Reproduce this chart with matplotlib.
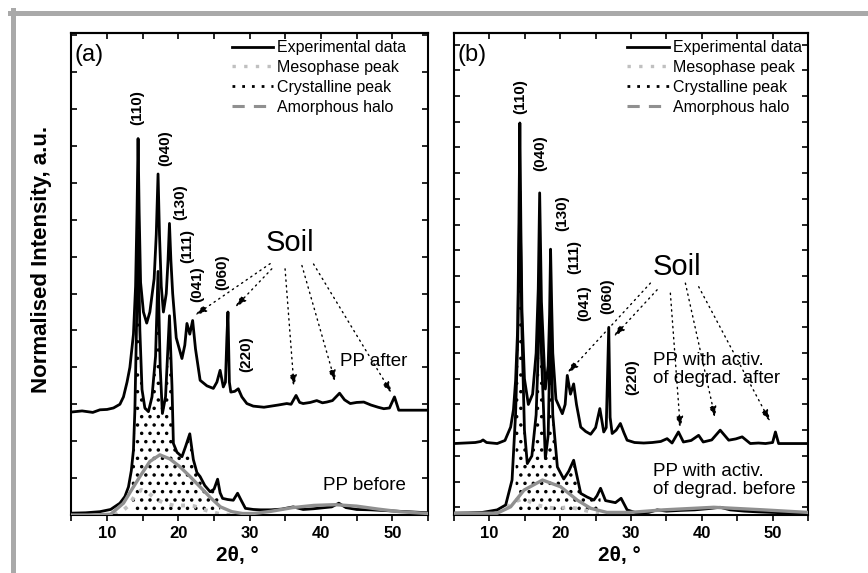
import numpy as np
import matplotlib
matplotlib.use('Agg')
import matplotlib.pyplot as plt
from matplotlib.lines import Line2D

plt.rcParams['font.family'] = ['Liberation Sans', 'DejaVu Sans']
plt.rcParams['hatch.linewidth'] = 1.3

# ---- panel (a) data ----
a_after_x = [5, 6.5, 8, 9, 10, 10.9, 11.8, 12.3, 12.8, 13.2, 13.7, 14.0, 14.2, 14.35, 14.5, 14.7, 15.1, 15.56,
             16.0, 16.6, 16.9, 17.15, 17.35, 17.6, 17.9, 18.3, 18.55, 18.75, 18.95, 19.2, 19.7, 20.5, 20.9,
             21.2, 21.6, 22.0, 22.4, 23.05, 24.0, 24.9, 25.4, 25.85, 26.3, 26.6, 26.8, 26.95, 27.15, 27.35,
             27.9, 28.4, 28.9, 29.6, 30.5, 32, 33, 34, 35.2, 35.8, 36.5, 37.0, 37.5, 38.5, 39.4, 40.2, 40.8,
             41.6, 42.6, 43.3, 44.1, 45.0, 46.0, 47.0, 48.0, 48.8, 49.6, 50.3, 50.9, 52, 53.5, 55]
a_after_y = [2.79, 2.82, 2.78, 2.85, 2.86, 2.9, 3.0, 3.2, 3.6, 4.0, 4.9, 6.2, 8.2, 10.2, 8.2, 6.3, 5.5, 5.2,
             5.5, 6.4, 7.6, 9.24, 7.6, 6.2, 5.5, 6.0, 6.9, 7.9, 6.9, 6.0, 4.8, 4.24, 4.6,
             5.19, 4.9, 5.27, 4.5, 3.65, 3.5, 3.43, 3.6, 3.92, 3.47, 3.6, 4.8, 5.5, 3.6, 3.33,
             3.35, 3.42, 3.2, 3.02, 2.95, 2.92, 2.95, 2.98, 3.02, 3.0, 3.24, 3.05, 3.02, 3.05, 3.1, 3.04, 3.06,
             3.1, 3.3, 3.12, 3.02, 3.05, 3.06, 2.98, 2.92, 2.88, 2.9, 3.2, 2.84, 2.84, 2.84, 2.84]

a_before_x = [5, 7, 9, 10.5, 11.8, 12.5, 13.0, 13.4, 13.7, 13.9, 14.1, 14.35, 14.6, 14.9, 15.3, 15.8, 16.3, 16.8,
              17.15, 17.45, 17.76, 18.2, 18.75, 19.1, 19.3, 19.8, 20.5, 21.0, 21.6, 22.1, 22.6, 23.05, 23.7,
              24.45, 25.0, 25.5, 25.85, 26.2, 26.9, 27.7, 28.3, 28.8, 29.4, 30.5, 31.5, 33, 34.5, 36.1, 37.5,
              39, 40.5, 41.5, 42.5, 43.5, 45, 47, 49, 51, 53, 55]
a_before_y = [0.05, 0.06, 0.09, 0.15, 0.32, 0.5, 0.76, 1.2, 1.76, 2.84, 4.8, 7.7, 5.0, 3.4, 2.9, 2.8, 3.2, 4.3,
              6.6, 4.0, 2.75, 3.2, 5.4, 3.5, 1.94, 1.7, 1.58, 1.85, 2.2, 1.5, 1.15, 1.04, 0.8,
              0.63, 0.7, 0.97, 0.6, 0.45, 0.42, 0.4, 0.59, 0.4, 0.18, 0.15, 0.14, 0.14, 0.16, 0.22, 0.15,
              0.17, 0.2, 0.22, 0.32, 0.2, 0.15, 0.14, 0.12, 0.1, 0.08, 0.06]

a_halo_x = [5, 8, 10.5, 12.3, 13.5, 14.6, 16, 17.4, 18.8, 20.2, 21.6, 23, 24.5, 25.9, 27.5, 29, 30.5, 33, 36, 39,
            42, 45, 48, 51, 55]
a_halo_y = [0.0, 0.0, 0.02, 0.32, 0.7, 1.04, 1.45, 1.63, 1.52, 1.31, 1.05, 0.77, 0.47, 0.22, 0.09, 0.04, 0.04,
            0.1, 0.2, 0.26, 0.28, 0.24, 0.16, 0.09, 0.04]

a_meso_x = [11, 12.2, 13, 14, 14.8, 15.8, 16.7, 18, 19.5, 21, 22.2, 23.5, 24.7, 26, 27.5]
a_meso_y = [0.0, 0.12, 0.25, 0.55, 0.68, 0.6, 0.45, 0.32, 0.25, 0.26, 0.24, 0.15, 0.08, 0.02, 0.0]

# ---- panel (b) data ----
b_after_x = [5, 6.5, 8, 8.77, 9.1, 9.6, 11.1, 12.2, 13.0, 13.4, 13.7, 14.0, 14.15, 14.3, 14.45, 14.6, 14.95, 15.5,
             16.1, 16.6, 16.9, 17.1, 17.35, 17.9, 18.3, 18.5, 18.64, 18.8, 18.95, 19.4, 20.3, 20.7, 21.0, 21.45,
             21.9, 22.3, 22.9, 23.6, 24.3, 25.0, 25.6, 26.15, 26.5, 26.86, 27.05, 27.34, 27.9, 28.5, 29.0, 29.45,
             30.5, 31.8, 33, 34.2, 35.1, 35.8, 36.7, 37.4, 38.5, 39.55, 40.2, 41.4, 42.6, 43.8, 44.8, 45.7,
             46.85, 48, 49.0, 50.0, 50.4, 50.85, 52, 53.5, 55]
b_after_y = [2.48, 2.5, 2.52, 2.56, 2.62, 2.52, 2.48, 2.6, 3.12, 3.8, 4.93, 7.0, 10.5, 14.95, 10.8, 7.6, 5.0, 4.0,
             4.4, 6.0, 8.5, 12.23, 8.0, 4.6, 5.5, 7.5, 10.04, 7.8, 6.0, 4.2, 3.64, 4.0, 5.13, 4.4,
             4.8, 4.0, 3.12, 2.95, 2.84, 3.1, 3.84, 2.93, 3.1, 7.0, 3.5, 2.87, 3.0, 3.26, 2.9, 2.61,
             2.52, 2.5, 2.52, 2.56, 2.67, 2.5, 2.93, 2.54, 2.6, 2.8, 2.54, 2.62, 3.0, 2.61, 2.66, 2.74,
             2.48, 2.5, 2.48, 2.52, 2.93, 2.48, 2.48, 2.48, 2.48]

b_before_x = [5, 7, 9, 11.1, 12.3, 13.2, 13.7, 14.0, 14.3, 14.6, 14.95, 15.35, 16.0, 16.6, 16.9, 17.1, 17.35,
              17.9, 18.3, 18.64, 18.95, 19.6, 20.5, 21.2, 21.9, 22.3, 22.9, 23.8, 24.75, 25.2, 25.7, 26.4,
              27.1, 27.8, 28.6, 29.45, 30.9, 32.5, 33.7, 35, 37, 39, 41, 42.6, 44, 46, 48, 50, 52, 55]
b_before_y = [-0.23, -0.22, -0.2, -0.1, 0.09, 1.06, 3.64, 6.5, 12.3, 6.8, 3.0, 1.7, 2.0, 3.6, 6.0, 9.6, 6.0,
              1.9, 2.8, 7.4, 3.6, 1.57, 1.1, 1.4, 1.83, 1.3, 0.54, 0.4, 0.28, 0.45, 0.74, 0.26,
              0.22, 0.18, 0.35, -0.1, -0.23, -0.2, -0.1, -0.15, -0.12, -0.1, -0.05, 0.0, -0.1, -0.15, -0.18,
              -0.2, -0.22, -0.23]

b_halo_x = [5, 8, 11.1, 13.0, 14.9, 17.5, 20.05, 22.4, 24.3, 26.6, 29.8, 34.6, 41.7, 48.7, 55]
b_halo_y = [-0.23, -0.23, -0.23, 0.02, 0.67, 1.06, 0.8, 0.28, -0.04, -0.2, -0.2, -0.1, 0.0, -0.1, -0.2]

b_meso_x = [11, 12.5, 13.5, 14.5, 15.5, 16.5, 18, 19.5, 21, 22.5, 24, 25.5]
b_meso_y = [-0.2, 0.0, 0.2, 0.32, 0.25, 0.1, 0.0, -0.05, 0.0, -0.05, -0.15, -0.2]

hkl = ['(110)', '(040)', '(130)', '(111)', '(041)', '(060)', '(220)']
a_hkl_xy = [(14.17, 11.04), (18.14, 9.95), (20.24, 8.47), (21.18, 7.3), (22.7, 6.26), (26.1, 6.58), (29.5, 4.37)]
b_hkl_xy = [(14.41, 15.98), (17.23, 13.77), (20.29, 11.44), (21.92, 9.75), (23.43, 7.95), (26.68, 8.22), (30.16, 5.08)]

a_soil_xy = (35.67, 7.38)
a_arrows = [((32.87, 6.81), (22.33, 5.41)), ((33.1, 6.67), (27.96, 5.63)), ((34.96, 6.67), (36.22, 3.47)),
            ((37.32, 6.76), (42.0, 3.6)), ((38.95, 6.8), (49.95, 3.29))]
b_soil_xy = (36.5, 9.36)
b_arrows = [((32.74, 8.72), (21.0, 5.21)), ((33.69, 8.46), (27.57, 6.64)), ((35.56, 8.33), (36.97, 3.07)),
            ((37.68, 8.72), (41.9, 3.46)), ((39.56, 8.58), (49.66, 3.33))]

legend_labels = ['Experimental data', 'Mesophase peak', 'Crystalline peak', 'Amorphous halo']
xticks_major = [10, 20, 30, 40, 50]
xticks_minor = [5, 15, 25, 35, 45, 55]

fig = plt.figure(figsize=(8.68, 5.73), dpi=100)
axa = fig.add_axes((71.4/868, 58/573, 356.6/868, 482/573))
axb = fig.add_axes((454/868, 58/573, 354/868, 482/573))

meso_c = '#c0c0c0'
halo_c = '#909090'

panels = [
    (axa, a_after_x, a_after_y, a_before_x, a_before_y, a_halo_x, a_halo_y, a_meso_x, a_meso_y,
     a_hkl_xy, a_soil_xy, a_arrows, (0, 13.06), np.arange(0, 14), 0.0, '(a)', 0.45),
    (axb, b_after_x, b_after_y, b_before_x, b_before_y, b_halo_x, b_halo_y, b_meso_x, b_meso_y,
     b_hkl_xy, b_soil_xy, b_arrows, (-0.3, 18.45), np.arange(0, 19), -0.23, '(b)', 0.49),
]

for (ax, xaf, yaf, xbe, ybe, xh, yh, xm, ym, hxy, sxy, arrows, ylim, yt, base, lab, legx) in panels:
    xbe_arr = np.array(xbe)
    ybe_arr = np.array(ybe)
    ax.fill_between(xbe_arr, base, ybe_arr, where=(xbe_arr >= 13.3) & (xbe_arr <= 26),
                    facecolor='none', edgecolor='k', lw=0, hatch='..', zorder=1)
    ax.plot(xm, ym, color=meso_c, lw=2.8, ls=(0, (1, 2)), zorder=2)
    ax.plot(xbe, ybe, color='k', lw=2, zorder=3, solid_joinstyle='round')
    ax.plot(xaf, yaf, color='k', lw=2, zorder=3, solid_joinstyle='round')
    ax.plot(xh, yh, color=halo_c, lw=2.4, zorder=4)

    for t, (x, y) in zip(hkl, hxy):
        ax.text(x, y, t, rotation=90, fontsize=11, fontweight='bold', ha='center', va='center')
    ax.text(sxy[0], sxy[1], 'Soil', fontsize=21, ha='center', va='center')
    for st, en in arrows:
        ax.annotate('', xy=en, xytext=st,
                    arrowprops=dict(arrowstyle='-|>,head_length=0.7,head_width=0.22', color='k', lw=1,
                                    ls=(0, (1, 3)), shrinkA=0, shrinkB=0))
    ax.text(0.01, 0.955, lab, transform=ax.transAxes, fontsize=17, va='center', ha='left')

    handles = [Line2D([], [], color='k', lw=2),
               Line2D([], [], color=meso_c, lw=2.4, ls=(0, (1, 2.5))),
               Line2D([], [], color='k', lw=2, ls=(0, (1, 2.5))),
               Line2D([], [], color=halo_c, lw=2.2, ls=(0, (4, 3)))]
    ax.legend(handles, legend_labels, loc='upper left', bbox_to_anchor=(legx, 0.985), frameon=False,
              fontsize=11.5, handlelength=2.6, handletextpad=0.25, labelspacing=0.3, borderpad=0,
              borderaxespad=0)

    ax.set_xlim(5, 55)
    ax.set_ylim(*ylim)
    ax.set_xticks(xticks_major)
    ax.set_xticks(xticks_minor, minor=True)
    ax.set_yticks(yt)
    ax.tick_params(axis='x', which='both', direction='out', length=4, width=1.2, top=False,
                   labelsize=12, pad=4)
    ax.tick_params(axis='y', which='both', direction='in', length=4, width=1.2, left=True, right=True,
                   labelleft=False)
    for lbl in ax.get_xticklabels():
        lbl.set_fontweight('bold')
    sec = ax.secondary_xaxis('top')
    sec.set_xticks(xticks_major + xticks_minor)
    sec.tick_params(direction='in', length=4, width=1.2, labeltop=False)
    sec.spines['top'].set_linewidth(1.5)
    for s in ax.spines.values():
        s.set_linewidth(1.5)

axa.text(42.68, 4.16, 'PP after', fontsize=13.5, ha='left', va='center')
axa.text(40.3, 0.81, 'PP before', fontsize=13.5, ha='left', va='center')
axb.text(33.12, 5.36, 'PP with activ.\nof degrad. after', fontsize=13.5, ha='left', va='center',
         linespacing=1.1)
axb.text(33.12, 1.04, 'PP with activ.\nof degrad. before', fontsize=13.5, ha='left', va='center',
         linespacing=1.1)

fig.text(237.5/868, 1 - 556/573, '2θ, °', fontsize=15, fontweight='bold', ha='center', va='center')
fig.text(619/868, 1 - 555/573, '2θ, °', fontsize=15, fontweight='bold', ha='center', va='center')
fig.text(42/868, 1 - 259/573, 'Normalised Intensity, a.u.', fontsize=16, fontweight='bold',
         rotation=90, ha='center', va='center')

frame_c = '#a9a9a9'
fig.add_artist(Line2D([10/868, 1], [1 - 12.5/573, 1 - 12.5/573], color=frame_c, lw=3.6,
                      transform=fig.transFigure))
fig.add_artist(Line2D([12.5/868, 12.5/868], [0, 1 - 10/573], color=frame_c, lw=3.6,
                      transform=fig.transFigure))

fig.savefig('out.png', dpi=100)
